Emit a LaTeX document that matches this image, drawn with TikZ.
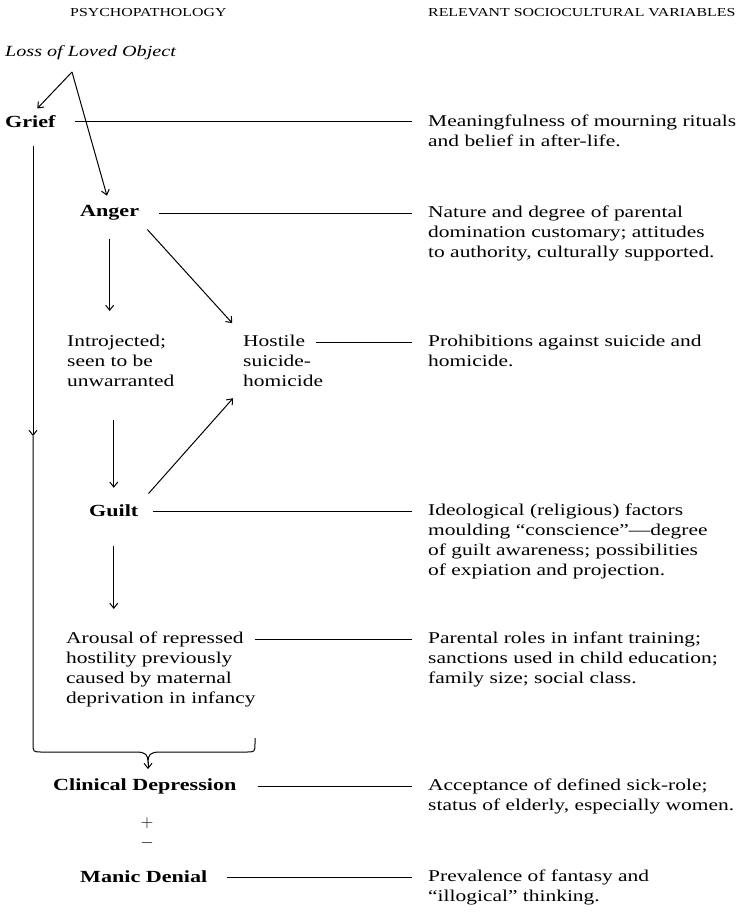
\documentclass[tikz,border=0pt]{standalone}
\usepackage{fontspec}
\setmainfont{Liberation Serif}[FakeStretch=1.3]
\usetikzlibrary{arrows.meta,calc}

\begin{document}
\begin{tikzpicture}[
    x=1pt, y=-1pt,
    every node/.style={font=\fontsize{16.5}{20}\selectfont, inner sep=0pt},
    heading/.style={font=\fontsize{12.2}{14}\selectfont, anchor=west},
    stage/.style={font=\fontsize{17}{20}\selectfont\bfseries, anchor=west},
    remark/.style={align=left, anchor=north west},
    sociovar/.style={align=left, anchor=north west, inner xsep=16pt},
    link/.style={line width=1pt},
    flow/.style={line width=1pt, -{Straight Barb[length=5pt,width=8pt]}}
]
    \useasboundingbox (0,0) rectangle (739,912);
    \def\rx{412}

    % Headings
    \node[heading] (psycho) at (70,13) {PSYCHOPATHOLOGY};
    \node[heading] (socio) at (428,13) {RELEVANT SOCIOCULTURAL VARIABLES};

    % Psychopathology column
    \node[anchor=west, font=\fontsize{15.5}{20}\selectfont\itshape] (loss) at (5,53) {Loss of Loved Object};
    \coordinate (lossfoot) at (72,72);
    \node[stage] (grief) at (5,122) {Grief};
    \node[stage] (anger) at (80,213) {Anger};
    \node[remark] (intro) at (67,335) {Introjected;\\seen to be\\unwarranted};
    \node[remark] (hostile) at (243,335) {Hostile\\suicide-\\homicide};
    \node[stage] (guilt) at (89,511) {Guilt};
    \node[remark] (arousal) at (66,632) {Arousal of repressed\\hostility previously\\caused by maternal\\deprivation in infancy};
    \node[stage] (clinical) at (53,786) {Clinical Depression};
    \node[align=center, font=\fontsize{19}{20}\selectfont] (plusminus) at (147,833) {$+$\\$-$};
    \node[stage] (manic) at (80,877) {Manic Denial};

    % Sociocultural column
    \node[sociovar] (mourning) at (\rx,115) {Meaningfulness of mourning rituals\\and belief in after-life.};
    \node[sociovar] (parental) at (\rx,206) {Nature and degree of parental\\domination customary; attitudes\\to authority, culturally supported.};
    \node[sociovar] (prohibit) at (\rx,335) {Prohibitions against suicide and\\homicide.};
    \node[sociovar] (ideology) at (\rx,504) {Ideological (religious) factors\\moulding ``conscience''---degree\\of guilt awareness; possibilities\\of expiation and projection.};
    \node[sociovar] (roles) at (\rx,632) {Parental roles in infant training;\\sanctions used in child education;\\family size; social class.};
    \node[sociovar] (sickrole) at (\rx,779) {Acceptance of defined sick-role;\\status of elderly, especially women.};
    \node[sociovar] (fantasy) at (\rx,870) {Prevalence of fantasy and\\``illogical'' thinking.};

    % Links across
    \coordinate (grieffoot) at (75,122);
    \coordinate (hostilefoot) at (316,342);
    \coordinate (arousalfoot) at (255,639);
    \draw[link] (grieffoot) -- (grieffoot -| mourning.west);
    \draw[link, shorten <=20pt] (anger.east) -- (anger.east -| parental.west);
    \draw[link] (hostilefoot) -- (hostilefoot -| prohibit.west);
    \draw[link, shorten <=14pt] (guilt.east) -- (guilt.east -| ideology.west);
    \draw[link] (arousalfoot) -- (arousalfoot -| roles.west);
    \draw[link, shorten <=21pt] (clinical.east) -- (clinical.east -| sickrole.west);
    \draw[link, shorten <=20pt] (manic.east) -- (manic.east -| fantasy.west);

    % Arrows
    \draw[flow, shorten >=10pt] (lossfoot) -- (grief.north);
    \draw[flow, shorten >=10pt] (lossfoot) -- (anger.north);
    \draw[flow, shorten <=18pt, shorten >=24pt] (anger.south) -- (anger.south |- intro.north);
    \draw[flow, shorten <=12pt, shorten >=16pt] (anger.south east) -- (hostile.north west);
    \draw[flow, shorten <=33pt, shorten >=17pt] (intro.south -| guilt.north) -- (guilt.north);
    \draw[flow, shorten <=15pt, shorten >=15pt] (guilt.north east) -- (hostile.south west);
    \draw[flow, shorten <=29pt, shorten >=23pt] (guilt.south) -- (guilt.south |- arousal.north);

    % Grief line and brace
    \coordinate (griefmid) at (33,436);
    \draw[flow, shorten <=18pt] (grief.south -| griefmid) -- (griefmid);
    \draw[link] (griefmid) -- (33,743) .. controls (33,752) .. (42,752) -- (136,752)
        .. controls (146,752) and (148,755) .. (148,762) coordinate (bracetip)
        .. controls (148,755) and (150,752) .. (160,752) -- (246,752)
        .. controls (255,752) .. (255,743) -- (255,738);
    \draw[flow, shorten >=9pt] (bracetip) -- (bracetip |- clinical.north);
\end{tikzpicture}
\end{document}
